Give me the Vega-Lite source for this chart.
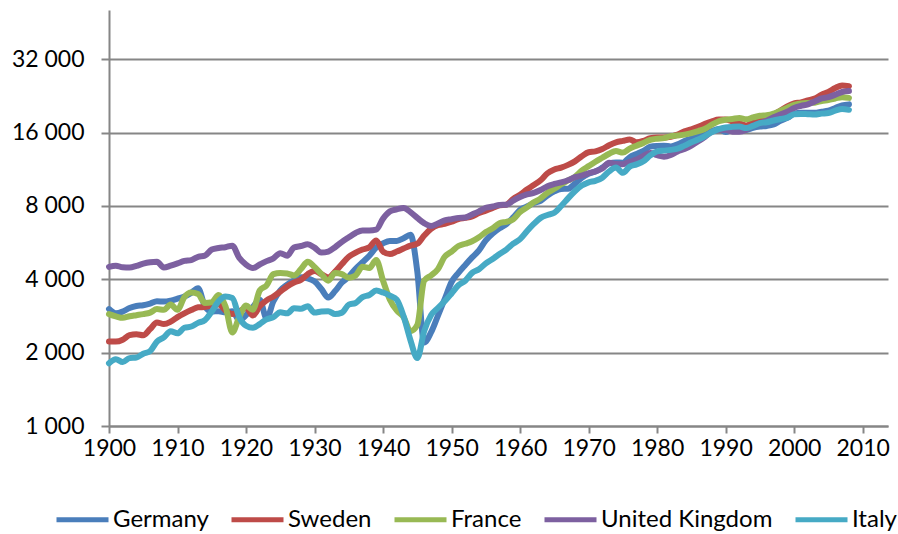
{
"$schema":"https://vega.github.io/schema/vega-lite/v6.json",
"width":779,"height":416,
"autosize":"none",
"padding":{"left":109,"top":10,"right":10,"bottom":108},
"config":{"font":"Lato","view":{"stroke":null}},
"datasets":{"d":[
{"country":"Germany","year":1900,"gdp":3020},{"country":"Germany","year":1901,"gdp":2900},{"country":"Germany","year":1902,"gdp":2950},{"country":"Germany","year":1903,"gdp":3050},{"country":"Germany","year":1904,"gdp":3110},{"country":"Germany","year":1905,"gdp":3130},{"country":"Germany","year":1906,"gdp":3180},{"country":"Germany","year":1907,"gdp":3250},{"country":"Germany","year":1908,"gdp":3240},{"country":"Germany","year":1909,"gdp":3270},
{"country":"Germany","year":1910,"gdp":3330},{"country":"Germany","year":1911,"gdp":3400},{"country":"Germany","year":1912,"gdp":3520},{"country":"Germany","year":1913,"gdp":3680},{"country":"Germany","year":1914,"gdp":3100},{"country":"Germany","year":1915,"gdp":2950},{"country":"Germany","year":1916,"gdp":2960},{"country":"Germany","year":1917,"gdp":2930},{"country":"Germany","year":1918,"gdp":2960},{"country":"Germany","year":1919,"gdp":2720},
{"country":"Germany","year":1920,"gdp":2850},{"country":"Germany","year":1921,"gdp":3080},{"country":"Germany","year":1922,"gdp":3300},{"country":"Germany","year":1923,"gdp":2760},{"country":"Germany","year":1924,"gdp":3250},{"country":"Germany","year":1925,"gdp":3600},{"country":"Germany","year":1926,"gdp":3800},{"country":"Germany","year":1927,"gdp":3960},{"country":"Germany","year":1928,"gdp":4080},{"country":"Germany","year":1929,"gdp":4040},
{"country":"Germany","year":1930,"gdp":3920},{"country":"Germany","year":1931,"gdp":3650},{"country":"Germany","year":1932,"gdp":3370},{"country":"Germany","year":1933,"gdp":3580},{"country":"Germany","year":1934,"gdp":3880},{"country":"Germany","year":1935,"gdp":4100},{"country":"Germany","year":1936,"gdp":4420},{"country":"Germany","year":1937,"gdp":4700},{"country":"Germany","year":1938,"gdp":5000},{"country":"Germany","year":1939,"gdp":5400},
{"country":"Germany","year":1940,"gdp":5620},{"country":"Germany","year":1941,"gdp":5750},{"country":"Germany","year":1942,"gdp":5750},{"country":"Germany","year":1943,"gdp":5900},{"country":"Germany","year":1944,"gdp":6100},{"country":"Germany","year":1945,"gdp":4300},{"country":"Germany","year":1946,"gdp":2200},{"country":"Germany","year":1947,"gdp":2420},{"country":"Germany","year":1948,"gdp":2830},{"country":"Germany","year":1949,"gdp":3320},
{"country":"Germany","year":1950,"gdp":3900},{"country":"Germany","year":1951,"gdp":4250},{"country":"Germany","year":1952,"gdp":4580},{"country":"Germany","year":1953,"gdp":4920},{"country":"Germany","year":1954,"gdp":5260},{"country":"Germany","year":1955,"gdp":5780},{"country":"Germany","year":1956,"gdp":6170},{"country":"Germany","year":1957,"gdp":6480},{"country":"Germany","year":1958,"gdp":6740},{"country":"Germany","year":1959,"gdp":7180},
{"country":"Germany","year":1960,"gdp":7720},{"country":"Germany","year":1961,"gdp":7960},{"country":"Germany","year":1962,"gdp":8230},{"country":"Germany","year":1963,"gdp":8400},{"country":"Germany","year":1964,"gdp":8830},{"country":"Germany","year":1965,"gdp":9190},{"country":"Germany","year":1966,"gdp":9400},{"country":"Germany","year":1967,"gdp":9420},{"country":"Germany","year":1968,"gdp":9880},{"country":"Germany","year":1969,"gdp":10450},
{"country":"Germany","year":1970,"gdp":10850},{"country":"Germany","year":1971,"gdp":11080},{"country":"Germany","year":1972,"gdp":11490},{"country":"Germany","year":1973,"gdp":11970},{"country":"Germany","year":1974,"gdp":12070},{"country":"Germany","year":1975,"gdp":12050},{"country":"Germany","year":1976,"gdp":12690},{"country":"Germany","year":1977,"gdp":13080},{"country":"Germany","year":1978,"gdp":13460},{"country":"Germany","year":1979,"gdp":14010},
{"country":"Germany","year":1980,"gdp":14120},{"country":"Germany","year":1981,"gdp":14150},{"country":"Germany","year":1982,"gdp":14050},{"country":"Germany","year":1983,"gdp":14330},{"country":"Germany","year":1984,"gdp":14790},{"country":"Germany","year":1985,"gdp":15140},{"country":"Germany","year":1986,"gdp":15470},{"country":"Germany","year":1987,"gdp":15700},{"country":"Germany","year":1988,"gdp":16240},{"country":"Germany","year":1989,"gdp":16560},
{"country":"Germany","year":1990,"gdp":16100},{"country":"Germany","year":1991,"gdp":16400},{"country":"Germany","year":1992,"gdp":16600},{"country":"Germany","year":1993,"gdp":16400},{"country":"Germany","year":1994,"gdp":16750},{"country":"Germany","year":1995,"gdp":16950},{"country":"Germany","year":1996,"gdp":17050},{"country":"Germany","year":1997,"gdp":17300},{"country":"Germany","year":1998,"gdp":17900},{"country":"Germany","year":1999,"gdp":18400},
{"country":"Germany","year":2000,"gdp":19100},{"country":"Germany","year":2001,"gdp":19300},{"country":"Germany","year":2002,"gdp":19300},{"country":"Germany","year":2003,"gdp":19300},{"country":"Germany","year":2004,"gdp":19500},{"country":"Germany","year":2005,"gdp":19700},{"country":"Germany","year":2006,"gdp":20200},{"country":"Germany","year":2007,"gdp":20700},{"country":"Germany","year":2008,"gdp":20900},

{"country":"Sweden","year":1900,"gdp":2220},{"country":"Sweden","year":1901,"gdp":2220},{"country":"Sweden","year":1902,"gdp":2260},{"country":"Sweden","year":1903,"gdp":2360},{"country":"Sweden","year":1904,"gdp":2380},{"country":"Sweden","year":1905,"gdp":2360},{"country":"Sweden","year":1906,"gdp":2500},{"country":"Sweden","year":1907,"gdp":2660},{"country":"Sweden","year":1908,"gdp":2620},{"country":"Sweden","year":1909,"gdp":2680},
{"country":"Sweden","year":1910,"gdp":2800},{"country":"Sweden","year":1911,"gdp":2900},{"country":"Sweden","year":1912,"gdp":2990},{"country":"Sweden","year":1913,"gdp":3070},{"country":"Sweden","year":1914,"gdp":3080},{"country":"Sweden","year":1915,"gdp":3120},{"country":"Sweden","year":1916,"gdp":3160},{"country":"Sweden","year":1917,"gdp":2980},{"country":"Sweden","year":1918,"gdp":2880},{"country":"Sweden","year":1919,"gdp":2950},
{"country":"Sweden","year":1920,"gdp":3050},{"country":"Sweden","year":1921,"gdp":2840},{"country":"Sweden","year":1922,"gdp":3100},{"country":"Sweden","year":1923,"gdp":3280},{"country":"Sweden","year":1924,"gdp":3400},{"country":"Sweden","year":1925,"gdp":3560},{"country":"Sweden","year":1926,"gdp":3740},{"country":"Sweden","year":1927,"gdp":3880},{"country":"Sweden","year":1928,"gdp":3980},{"country":"Sweden","year":1929,"gdp":4200},
{"country":"Sweden","year":1930,"gdp":4330},{"country":"Sweden","year":1931,"gdp":4200},{"country":"Sweden","year":1932,"gdp":4070},{"country":"Sweden","year":1933,"gdp":4300},{"country":"Sweden","year":1934,"gdp":4620},{"country":"Sweden","year":1935,"gdp":4950},{"country":"Sweden","year":1936,"gdp":5150},{"country":"Sweden","year":1937,"gdp":5300},{"country":"Sweden","year":1938,"gdp":5420},{"country":"Sweden","year":1939,"gdp":5780},
{"country":"Sweden","year":1940,"gdp":5200},{"country":"Sweden","year":1941,"gdp":5080},{"country":"Sweden","year":1942,"gdp":5200},{"country":"Sweden","year":1943,"gdp":5350},{"country":"Sweden","year":1944,"gdp":5500},{"country":"Sweden","year":1945,"gdp":5600},{"country":"Sweden","year":1946,"gdp":6050},{"country":"Sweden","year":1947,"gdp":6450},{"country":"Sweden","year":1948,"gdp":6680},{"country":"Sweden","year":1949,"gdp":6750},
{"country":"Sweden","year":1950,"gdp":6900},{"country":"Sweden","year":1951,"gdp":7070},{"country":"Sweden","year":1952,"gdp":7150},{"country":"Sweden","year":1953,"gdp":7250},{"country":"Sweden","year":1954,"gdp":7480},{"country":"Sweden","year":1955,"gdp":7650},{"country":"Sweden","year":1956,"gdp":7850},{"country":"Sweden","year":1957,"gdp":8050},{"country":"Sweden","year":1958,"gdp":8100},{"country":"Sweden","year":1959,"gdp":8550},
{"country":"Sweden","year":1960,"gdp":8900},{"country":"Sweden","year":1961,"gdp":9350},{"country":"Sweden","year":1962,"gdp":9750},{"country":"Sweden","year":1963,"gdp":10200},{"country":"Sweden","year":1964,"gdp":10900},{"country":"Sweden","year":1965,"gdp":11300},{"country":"Sweden","year":1966,"gdp":11500},{"country":"Sweden","year":1967,"gdp":11800},{"country":"Sweden","year":1968,"gdp":12200},{"country":"Sweden","year":1969,"gdp":12800},
{"country":"Sweden","year":1970,"gdp":13300},{"country":"Sweden","year":1971,"gdp":13400},{"country":"Sweden","year":1972,"gdp":13700},{"country":"Sweden","year":1973,"gdp":14200},{"country":"Sweden","year":1974,"gdp":14600},{"country":"Sweden","year":1975,"gdp":14800},{"country":"Sweden","year":1976,"gdp":15000},{"country":"Sweden","year":1977,"gdp":14600},{"country":"Sweden","year":1978,"gdp":14800},{"country":"Sweden","year":1979,"gdp":15200},
{"country":"Sweden","year":1980,"gdp":15300},{"country":"Sweden","year":1981,"gdp":15300},{"country":"Sweden","year":1982,"gdp":15400},{"country":"Sweden","year":1983,"gdp":15700},{"country":"Sweden","year":1984,"gdp":16200},{"country":"Sweden","year":1985,"gdp":16500},{"country":"Sweden","year":1986,"gdp":16900},{"country":"Sweden","year":1987,"gdp":17400},{"country":"Sweden","year":1988,"gdp":17800},{"country":"Sweden","year":1989,"gdp":18100},
{"country":"Sweden","year":1990,"gdp":18100},{"country":"Sweden","year":1991,"gdp":17800},{"country":"Sweden","year":1992,"gdp":17500},{"country":"Sweden","year":1993,"gdp":17100},{"country":"Sweden","year":1994,"gdp":17700},{"country":"Sweden","year":1995,"gdp":18300},{"country":"Sweden","year":1996,"gdp":18500},{"country":"Sweden","year":1997,"gdp":19000},{"country":"Sweden","year":1998,"gdp":19700},{"country":"Sweden","year":1999,"gdp":20500},
{"country":"Sweden","year":2000,"gdp":21100},{"country":"Sweden","year":2001,"gdp":21300},{"country":"Sweden","year":2002,"gdp":21700},{"country":"Sweden","year":2003,"gdp":22100},{"country":"Sweden","year":2004,"gdp":22900},{"country":"Sweden","year":2005,"gdp":23500},{"country":"Sweden","year":2006,"gdp":24400},{"country":"Sweden","year":2007,"gdp":25000},{"country":"Sweden","year":2008,"gdp":24800},

{"country":"France","year":1900,"gdp":2880},{"country":"France","year":1901,"gdp":2820},{"country":"France","year":1902,"gdp":2780},{"country":"France","year":1903,"gdp":2820},{"country":"France","year":1904,"gdp":2850},{"country":"France","year":1905,"gdp":2880},{"country":"France","year":1906,"gdp":2920},{"country":"France","year":1907,"gdp":3020},{"country":"France","year":1908,"gdp":3000},{"country":"France","year":1909,"gdp":3150},
{"country":"France","year":1910,"gdp":3000},{"country":"France","year":1911,"gdp":3380},{"country":"France","year":1912,"gdp":3530},{"country":"France","year":1913,"gdp":3480},{"country":"France","year":1914,"gdp":3200},{"country":"France","year":1915,"gdp":3220},{"country":"France","year":1916,"gdp":3450},{"country":"France","year":1917,"gdp":3100},{"country":"France","year":1918,"gdp":2420},{"country":"France","year":1919,"gdp":2800},
{"country":"France","year":1920,"gdp":3120},{"country":"France","year":1921,"gdp":3000},{"country":"France","year":1922,"gdp":3600},{"country":"France","year":1923,"gdp":3780},{"country":"France","year":1924,"gdp":4200},{"country":"France","year":1925,"gdp":4250},{"country":"France","year":1926,"gdp":4230},{"country":"France","year":1927,"gdp":4150},{"country":"France","year":1928,"gdp":4400},{"country":"France","year":1929,"gdp":4720},
{"country":"France","year":1930,"gdp":4500},{"country":"France","year":1931,"gdp":4200},{"country":"France","year":1932,"gdp":3950},{"country":"France","year":1933,"gdp":4250},{"country":"France","year":1934,"gdp":4200},{"country":"France","year":1935,"gdp":4060},{"country":"France","year":1936,"gdp":4150},{"country":"France","year":1937,"gdp":4500},{"country":"France","year":1938,"gdp":4450},{"country":"France","year":1939,"gdp":4800},
{"country":"France","year":1940,"gdp":3950},{"country":"France","year":1941,"gdp":3300},{"country":"France","year":1942,"gdp":2980},{"country":"France","year":1943,"gdp":2800},{"country":"France","year":1944,"gdp":2450},{"country":"France","year":1945,"gdp":2600},{"country":"France","year":1946,"gdp":3950},{"country":"France","year":1947,"gdp":4150},{"country":"France","year":1948,"gdp":4400},{"country":"France","year":1949,"gdp":4950},
{"country":"France","year":1950,"gdp":5200},{"country":"France","year":1951,"gdp":5480},{"country":"France","year":1952,"gdp":5600},{"country":"France","year":1953,"gdp":5730},{"country":"France","year":1954,"gdp":5950},{"country":"France","year":1955,"gdp":6250},{"country":"France","year":1956,"gdp":6480},{"country":"France","year":1957,"gdp":6790},{"country":"France","year":1958,"gdp":6890},{"country":"France","year":1959,"gdp":7050},
{"country":"France","year":1960,"gdp":7550},{"country":"France","year":1961,"gdp":7900},{"country":"France","year":1962,"gdp":8280},{"country":"France","year":1963,"gdp":8600},{"country":"France","year":1964,"gdp":9070},{"country":"France","year":1965,"gdp":9420},{"country":"France","year":1966,"gdp":9820},{"country":"France","year":1967,"gdp":10180},{"country":"France","year":1968,"gdp":10540},{"country":"France","year":1969,"gdp":11180},
{"country":"France","year":1970,"gdp":11660},{"country":"France","year":1971,"gdp":12150},{"country":"France","year":1972,"gdp":12620},{"country":"France","year":1973,"gdp":13110},{"country":"France","year":1974,"gdp":13450},{"country":"France","year":1975,"gdp":13250},{"country":"France","year":1976,"gdp":13760},{"country":"France","year":1977,"gdp":14150},{"country":"France","year":1978,"gdp":14520},{"country":"France","year":1979,"gdp":14950},
{"country":"France","year":1980,"gdp":15110},{"country":"France","year":1981,"gdp":15200},{"country":"France","year":1982,"gdp":15480},{"country":"France","year":1983,"gdp":15560},{"country":"France","year":1984,"gdp":15710},{"country":"France","year":1985,"gdp":15930},{"country":"France","year":1986,"gdp":16240},{"country":"France","year":1987,"gdp":16590},{"country":"France","year":1988,"gdp":17250},{"country":"France","year":1989,"gdp":17820},
{"country":"France","year":1990,"gdp":18090},{"country":"France","year":1991,"gdp":18220},{"country":"France","year":1992,"gdp":18370},{"country":"France","year":1993,"gdp":18150},{"country":"France","year":1994,"gdp":18470},{"country":"France","year":1995,"gdp":18760},{"country":"France","year":1996,"gdp":18860},{"country":"France","year":1997,"gdp":19160},{"country":"France","year":1998,"gdp":19690},{"country":"France","year":1999,"gdp":20250},
{"country":"France","year":2000,"gdp":20810},{"country":"France","year":2001,"gdp":21070},{"country":"France","year":2002,"gdp":21180},{"country":"France","year":2003,"gdp":21230},{"country":"France","year":2004,"gdp":21590},{"country":"France","year":2005,"gdp":21790},{"country":"France","year":2006,"gdp":22090},{"country":"France","year":2007,"gdp":22380},{"country":"France","year":2008,"gdp":22220},

{"country":"United Kingdom","year":1900,"gdp":4500},{"country":"United Kingdom","year":1901,"gdp":4550},{"country":"United Kingdom","year":1902,"gdp":4480},{"country":"United Kingdom","year":1903,"gdp":4470},{"country":"United Kingdom","year":1904,"gdp":4540},{"country":"United Kingdom","year":1905,"gdp":4640},{"country":"United Kingdom","year":1906,"gdp":4700},{"country":"United Kingdom","year":1907,"gdp":4720},{"country":"United Kingdom","year":1908,"gdp":4470},{"country":"United Kingdom","year":1909,"gdp":4550},
{"country":"United Kingdom","year":1910,"gdp":4650},{"country":"United Kingdom","year":1911,"gdp":4760},{"country":"United Kingdom","year":1912,"gdp":4800},{"country":"United Kingdom","year":1913,"gdp":4950},{"country":"United Kingdom","year":1914,"gdp":5000},{"country":"United Kingdom","year":1915,"gdp":5300},{"country":"United Kingdom","year":1916,"gdp":5380},{"country":"United Kingdom","year":1917,"gdp":5420},{"country":"United Kingdom","year":1918,"gdp":5500},{"country":"United Kingdom","year":1919,"gdp":4900},
{"country":"United Kingdom","year":1920,"gdp":4600},{"country":"United Kingdom","year":1921,"gdp":4450},{"country":"United Kingdom","year":1922,"gdp":4600},{"country":"United Kingdom","year":1923,"gdp":4750},{"country":"United Kingdom","year":1924,"gdp":4880},{"country":"United Kingdom","year":1925,"gdp":5120},{"country":"United Kingdom","year":1926,"gdp":5000},{"country":"United Kingdom","year":1927,"gdp":5400},{"country":"United Kingdom","year":1928,"gdp":5480},{"country":"United Kingdom","year":1929,"gdp":5570},
{"country":"United Kingdom","year":1930,"gdp":5400},{"country":"United Kingdom","year":1931,"gdp":5150},{"country":"United Kingdom","year":1932,"gdp":5200},{"country":"United Kingdom","year":1933,"gdp":5420},{"country":"United Kingdom","year":1934,"gdp":5700},{"country":"United Kingdom","year":1935,"gdp":5950},{"country":"United Kingdom","year":1936,"gdp":6200},{"country":"United Kingdom","year":1937,"gdp":6350},{"country":"United Kingdom","year":1938,"gdp":6350},{"country":"United Kingdom","year":1939,"gdp":6400},
{"country":"United Kingdom","year":1940,"gdp":7100},{"country":"United Kingdom","year":1941,"gdp":7600},{"country":"United Kingdom","year":1942,"gdp":7750},{"country":"United Kingdom","year":1943,"gdp":7850},{"country":"United Kingdom","year":1944,"gdp":7550},{"country":"United Kingdom","year":1945,"gdp":7150},{"country":"United Kingdom","year":1946,"gdp":6800},{"country":"United Kingdom","year":1947,"gdp":6620},{"country":"United Kingdom","year":1948,"gdp":6780},{"country":"United Kingdom","year":1949,"gdp":6990},
{"country":"United Kingdom","year":1950,"gdp":7060},{"country":"United Kingdom","year":1951,"gdp":7150},{"country":"United Kingdom","year":1952,"gdp":7170},{"country":"United Kingdom","year":1953,"gdp":7380},{"country":"United Kingdom","year":1954,"gdp":7600},{"country":"United Kingdom","year":1955,"gdp":7870},{"country":"United Kingdom","year":1956,"gdp":7960},{"country":"United Kingdom","year":1957,"gdp":8080},{"country":"United Kingdom","year":1958,"gdp":8100},{"country":"United Kingdom","year":1959,"gdp":8420},
{"country":"United Kingdom","year":1960,"gdp":8700},{"country":"United Kingdom","year":1961,"gdp":8920},{"country":"United Kingdom","year":1962,"gdp":9050},{"country":"United Kingdom","year":1963,"gdp":9300},{"country":"United Kingdom","year":1964,"gdp":9650},{"country":"United Kingdom","year":1965,"gdp":9850},{"country":"United Kingdom","year":1966,"gdp":10000},{"country":"United Kingdom","year":1967,"gdp":10200},{"country":"United Kingdom","year":1968,"gdp":10500},{"country":"United Kingdom","year":1969,"gdp":10650},
{"country":"United Kingdom","year":1970,"gdp":10900},{"country":"United Kingdom","year":1971,"gdp":11100},{"country":"United Kingdom","year":1972,"gdp":11400},{"country":"United Kingdom","year":1973,"gdp":12050},{"country":"United Kingdom","year":1974,"gdp":11900},{"country":"United Kingdom","year":1975,"gdp":11880},{"country":"United Kingdom","year":1976,"gdp":12150},{"country":"United Kingdom","year":1977,"gdp":12400},{"country":"United Kingdom","year":1978,"gdp":12850},{"country":"United Kingdom","year":1979,"gdp":13200},
{"country":"United Kingdom","year":1980,"gdp":12930},{"country":"United Kingdom","year":1981,"gdp":12750},{"country":"United Kingdom","year":1982,"gdp":12960},{"country":"United Kingdom","year":1983,"gdp":13400},{"country":"United Kingdom","year":1984,"gdp":13700},{"country":"United Kingdom","year":1985,"gdp":14160},{"country":"United Kingdom","year":1986,"gdp":14740},{"country":"United Kingdom","year":1987,"gdp":15400},{"country":"United Kingdom","year":1988,"gdp":16150},{"country":"United Kingdom","year":1989,"gdp":16400},
{"country":"United Kingdom","year":1990,"gdp":16430},{"country":"United Kingdom","year":1991,"gdp":16150},{"country":"United Kingdom","year":1992,"gdp":16140},{"country":"United Kingdom","year":1993,"gdp":16450},{"country":"United Kingdom","year":1994,"gdp":17100},{"country":"United Kingdom","year":1995,"gdp":17500},{"country":"United Kingdom","year":1996,"gdp":17900},{"country":"United Kingdom","year":1997,"gdp":18500},{"country":"United Kingdom","year":1998,"gdp":19000},{"country":"United Kingdom","year":1999,"gdp":19500},
{"country":"United Kingdom","year":2000,"gdp":20200},{"country":"United Kingdom","year":2001,"gdp":20600},{"country":"United Kingdom","year":2002,"gdp":20900},{"country":"United Kingdom","year":2003,"gdp":21500},{"country":"United Kingdom","year":2004,"gdp":22100},{"country":"United Kingdom","year":2005,"gdp":22400},{"country":"United Kingdom","year":2006,"gdp":22900},{"country":"United Kingdom","year":2007,"gdp":23500},{"country":"United Kingdom","year":2008,"gdp":23700},

{"country":"Italy","year":1900,"gdp":1810},{"country":"Italy","year":1901,"gdp":1880},{"country":"Italy","year":1902,"gdp":1830},{"country":"Italy","year":1903,"gdp":1900},{"country":"Italy","year":1904,"gdp":1910},{"country":"Italy","year":1905,"gdp":1980},{"country":"Italy","year":1906,"gdp":2030},{"country":"Italy","year":1907,"gdp":2220},{"country":"Italy","year":1908,"gdp":2310},{"country":"Italy","year":1909,"gdp":2450},
{"country":"Italy","year":1910,"gdp":2400},{"country":"Italy","year":1911,"gdp":2530},{"country":"Italy","year":1912,"gdp":2560},{"country":"Italy","year":1913,"gdp":2650},{"country":"Italy","year":1914,"gdp":2720},{"country":"Italy","year":1915,"gdp":2950},{"country":"Italy","year":1916,"gdp":3250},{"country":"Italy","year":1917,"gdp":3400},{"country":"Italy","year":1918,"gdp":3350},{"country":"Italy","year":1919,"gdp":2800},
{"country":"Italy","year":1920,"gdp":2580},{"country":"Italy","year":1921,"gdp":2530},{"country":"Italy","year":1922,"gdp":2620},{"country":"Italy","year":1923,"gdp":2740},{"country":"Italy","year":1924,"gdp":2800},{"country":"Italy","year":1925,"gdp":2930},{"country":"Italy","year":1926,"gdp":2900},{"country":"Italy","year":1927,"gdp":3040},{"country":"Italy","year":1928,"gdp":3030},{"country":"Italy","year":1929,"gdp":3100},
{"country":"Italy","year":1930,"gdp":2920},{"country":"Italy","year":1931,"gdp":2950},{"country":"Italy","year":1932,"gdp":2960},{"country":"Italy","year":1933,"gdp":2880},{"country":"Italy","year":1934,"gdp":2920},{"country":"Italy","year":1935,"gdp":3150},{"country":"Italy","year":1936,"gdp":3200},{"country":"Italy","year":1937,"gdp":3380},{"country":"Italy","year":1938,"gdp":3450},{"country":"Italy","year":1939,"gdp":3600},
{"country":"Italy","year":1940,"gdp":3530},{"country":"Italy","year":1941,"gdp":3430},{"country":"Italy","year":1942,"gdp":3300},{"country":"Italy","year":1943,"gdp":2820},{"country":"Italy","year":1944,"gdp":2250},{"country":"Italy","year":1945,"gdp":1900},{"country":"Italy","year":1946,"gdp":2450},{"country":"Italy","year":1947,"gdp":2850},{"country":"Italy","year":1948,"gdp":3050},{"country":"Italy","year":1949,"gdp":3250},
{"country":"Italy","year":1950,"gdp":3500},{"country":"Italy","year":1951,"gdp":3780},{"country":"Italy","year":1952,"gdp":3950},{"country":"Italy","year":1953,"gdp":4250},{"country":"Italy","year":1954,"gdp":4400},{"country":"Italy","year":1955,"gdp":4650},{"country":"Italy","year":1956,"gdp":4850},{"country":"Italy","year":1957,"gdp":5080},{"country":"Italy","year":1958,"gdp":5300},{"country":"Italy","year":1959,"gdp":5600},
{"country":"Italy","year":1960,"gdp":5850},{"country":"Italy","year":1961,"gdp":6300},{"country":"Italy","year":1962,"gdp":6750},{"country":"Italy","year":1963,"gdp":7150},{"country":"Italy","year":1964,"gdp":7350},{"country":"Italy","year":1965,"gdp":7500},{"country":"Italy","year":1966,"gdp":8000},{"country":"Italy","year":1967,"gdp":8600},{"country":"Italy","year":1968,"gdp":9200},{"country":"Italy","year":1969,"gdp":9700},
{"country":"Italy","year":1970,"gdp":10000},{"country":"Italy","year":1971,"gdp":10150},{"country":"Italy","year":1972,"gdp":10450},{"country":"Italy","year":1973,"gdp":11100},{"country":"Italy","year":1974,"gdp":11500},{"country":"Italy","year":1975,"gdp":10950},{"country":"Italy","year":1976,"gdp":11600},{"country":"Italy","year":1977,"gdp":11850},{"country":"Italy","year":1978,"gdp":12200},{"country":"Italy","year":1979,"gdp":12900},
{"country":"Italy","year":1980,"gdp":13400},{"country":"Italy","year":1981,"gdp":13500},{"country":"Italy","year":1982,"gdp":13600},{"country":"Italy","year":1983,"gdp":13750},{"country":"Italy","year":1984,"gdp":14150},{"country":"Italy","year":1985,"gdp":14600},{"country":"Italy","year":1986,"gdp":15000},{"country":"Italy","year":1987,"gdp":15500},{"country":"Italy","year":1988,"gdp":16100},{"country":"Italy","year":1989,"gdp":16550},
{"country":"Italy","year":1990,"gdp":16800},{"country":"Italy","year":1991,"gdp":16900},{"country":"Italy","year":1992,"gdp":16950},{"country":"Italy","year":1993,"gdp":16700},{"country":"Italy","year":1994,"gdp":17050},{"country":"Italy","year":1995,"gdp":17500},{"country":"Italy","year":1996,"gdp":17650},{"country":"Italy","year":1997,"gdp":17950},{"country":"Italy","year":1998,"gdp":18200},{"country":"Italy","year":1999,"gdp":18450},
{"country":"Italy","year":2000,"gdp":19050},{"country":"Italy","year":2001,"gdp":19100},{"country":"Italy","year":2002,"gdp":19050},{"country":"Italy","year":2003,"gdp":19000},{"country":"Italy","year":2004,"gdp":19150},{"country":"Italy","year":2005,"gdp":19250},{"country":"Italy","year":2006,"gdp":19700},{"country":"Italy","year":2007,"gdp":20000},{"country":"Italy","year":2008,"gdp":19850}
]},
"data":{"name":"d"},
"mark":{"type":"line","strokeWidth":6,"interpolate":"monotone","strokeCap":"round","strokeJoin":"round"},
"encoding":{
"x":{"field":"year","type":"quantitative",
 "scale":{"domain":[1900,2013.7],"nice":false,"zero":false},
 "axis":{"title":null,"grid":false,"values":[1900,1910,1920,1930,1940,1950,1960,1970,1980,1990,2000,2010],"format":"d",
 "labelFontSize":23,"labelColor":"#000000","labelPadding":4,"tickSize":7,"tickWidth":2,"tickColor":"#868686","domainColor":"#868686","domainWidth":2,"labelFlush":false}},
"y":{"field":"gdp","type":"quantitative",
 "scale":{"type":"log","base":2,"domain":[1000,51000],"nice":false},
 "axis":{"title":null,"grid":true,"gridColor":"#868686","gridWidth":2,"values":[1000,2000,4000,8000,16000,32000],
 "labelExpr":"replace(format(datum.value, ','), ',', ' ')",
 "labelFontSize":23,"labelColor":"#000000","labelPadding":17,"tickSize":8,"tickWidth":2,"tickColor":"#868686","domainColor":"#868686","domainWidth":2}},
"color":{"field":"country","type":"nominal",
 "scale":{"domain":["Germany","Sweden","France","United Kingdom","Italy"],"range":["#4A7EBB","#BE4B48","#98B954","#7D60A0","#46AAC5"]},
 "legend":{"title":null,"orient":"none","direction":"horizontal","legendX":-55,"legendY":481,
 "symbolType":"stroke","symbolSize":2704,"symbolStrokeWidth":5,"labelFontSize":24,"labelLimit":400,"labelColor":"#000000","labelOffset":2,"columnPadding":12}}
}
}
